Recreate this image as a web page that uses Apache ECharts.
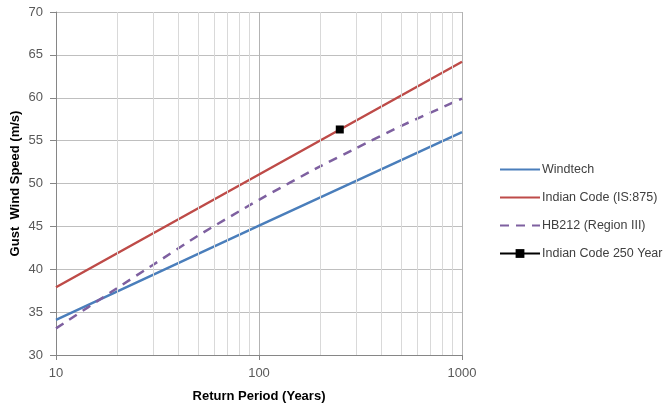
<!DOCTYPE html>
<html><head><meta charset="utf-8">
<script src="https://cdn.jsdelivr.net/npm/echarts@6/dist/echarts.min.js"></script>
<style>html,body{margin:0;padding:0;background:#fff}#c{width:668px;height:407px}</style>
</head><body><div id="c"></div>
<script>
const returnPeriods = [10, 100, 1000];
const windtech = [34.1, 45.1, 56.0];
const indianCode = [37.9, 51.05, 64.2];
const hbPeriods = [10, 20, 30, 50, 100, 200, 300, 500, 1000];
const hb212 = [33.1, 37.8, 40.5, 43.9, 48.1, 52.0, 54.1, 56.7, 59.9];
const markerPeriod = [250];
const markerValue = [56.3];
const minorGridValues = [20, 30, 40, 50, 60, 70, 80, 90, 200, 300, 400, 500, 600, 700, 800, 900];
const seriesNames = ['Windtech', 'Indian Code (IS:875)', 'HB212 (Region III)', 'Indian Code 250 Year'];
const xAxisTitle = 'Return Period (Years)';
const yAxisTitle = 'Gust  Wind Speed (m/s)';

const zip = (xs, ys) => xs.map((x, i) => [x, ys[i]]);
const FONT = 'Liberation Sans';

const chart = echarts.init(document.getElementById('c'), null, {renderer: 'canvas'});
chart.setOption({
  animation: false,
  backgroundColor: '#ffffff',
  grid: {left: 56, top: 12, width: 406, height: 343, containLabel: false, outerBoundsMode: 'none'},
  legend: {
    orient: 'vertical', left: 499, top: 163, padding: 0,
    itemWidth: 40, itemHeight: 11, itemGap: 15,
    data: seriesNames.map((n, i) => i < 3 ? {name: n, itemStyle: {opacity: 0}} : {name: n}),
    textStyle: {fontFamily: FONT, fontSize: 12.5, color: '#404040', padding: [0, 0, 0, -3]}
  },
  xAxis: {
    type: 'log', logBase: 10, min: 10, max: 1000,
    name: xAxisTitle, nameLocation: 'middle', nameGap: 35, nameMoveOverlap: false,
    nameTextStyle: {fontFamily: FONT, fontSize: 13, fontWeight: 'bold', color: '#000'},
    axisLine: {lineStyle: {color: '#868686'}},
    axisTick: {show: true, length: 5, lineStyle: {color: '#868686'}},
    axisLabel: {fontFamily: FONT, fontSize: 13, color: '#595959', margin: 12, formatter: v => String(v)},
    splitLine: {show: true, lineStyle: {color: '#b3b3b3', width: 1}}
  },
  yAxis: {
    type: 'value', min: 30, max: 70, interval: 5,
    name: yAxisTitle, nameLocation: 'middle', nameGap: 34, nameMoveOverlap: false,
    nameTextStyle: {fontFamily: FONT, fontSize: 13, fontWeight: 'bold', color: '#000'},
    axisLine: {show: true, lineStyle: {color: '#868686'}},
    axisTick: {show: true, length: 6, lineStyle: {color: '#868686'}},
    axisLabel: {fontFamily: FONT, fontSize: 13, color: '#595959', margin: 13},
    splitLine: {show: true, lineStyle: {color: '#bfbfbf', width: 1}}
  },
  series: [
    {
      name: 'minor', type: 'line', data: [], z: 1, silent: true,
      markLine: {
        silent: true, symbol: ['none', 'none'], label: {show: false},
        lineStyle: {color: '#d9d9d9', width: 1, type: 'solid'},
        data: minorGridValues.map(v => ({xAxis: v}))
      }
    },
    {
      name: seriesNames[0], type: 'line', symbol: 'none', z: 3,
      data: zip(returnPeriods, windtech),
      lineStyle: {color: '#4a7ebb', width: 2.5}, itemStyle: {color: '#4a7ebb'}
    },
    {
      name: seriesNames[1], type: 'line', symbol: 'none', z: 3,
      data: zip(returnPeriods, indianCode),
      lineStyle: {color: '#be4b48', width: 2.5}, itemStyle: {color: '#be4b48'}
    },
    {
      name: seriesNames[2], type: 'line', symbol: 'none', z: 3, smooth: 0.2,
      data: zip(hbPeriods, hb212),
      lineStyle: {color: '#7e60a0', width: 2.5, type: [9, 7]}, itemStyle: {color: '#7e60a0'}
    },
    {
      name: seriesNames[3], type: 'line', symbol: 'rect', symbolSize: 8, showSymbol: true, z: 4,
      data: zip(markerPeriod, markerValue),
      lineStyle: {color: '#000', width: 2.5}, itemStyle: {color: '#000'}
    }
  ]
});
</script></body></html>
